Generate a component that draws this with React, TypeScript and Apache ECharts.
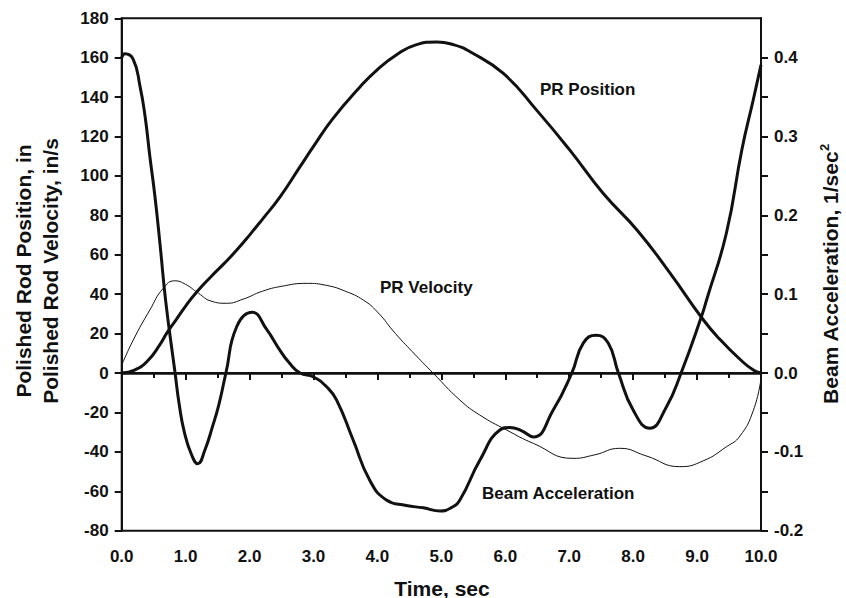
import React, { useEffect, useRef } from "react";
import * as echarts from "echarts";

// Time (s) and values
const positionT = [0, 0.2, 0.4, 0.6, 0.7, 0.85, 1.0, 1.17, 1.4, 1.6, 1.8, 2.0, 2.2, 2.48, 2.79, 3.0, 3.3, 3.73, 4.0, 4.3, 4.6, 4.93, 5.2, 5.45, 5.97, 6.49, 7.01, 7.53, 8.06, 8.58, 9.1, 9.36, 9.67, 9.88, 10.0];
const positionV = [0, 1.5, 6, 14.5, 20, 27, 34, 41, 49, 55.5, 62.4, 70, 78, 89.5, 104.7, 115, 129, 145.3, 154, 161.5, 166.5, 168, 166.5, 163, 152, 133.4, 113.1, 91.2, 72.6, 50.6, 26.9, 17, 7, 1.5, 0];

const velocityT = [0, 0.18, 0.44, 0.65, 0.83, 1.0, 1.2, 1.4, 1.64, 1.9, 2.2, 2.5, 2.89, 3.2, 3.5, 3.78, 4.0, 4.28, 4.6, 4.87, 5.29, 5.6, 6.02, 6.44, 7.06, 7.4, 7.79, 8.2, 8.73, 9.1, 9.46, 9.67, 9.88, 10.0];
const velocityV = [4, 16.7, 32, 43, 46.8, 45, 40.5, 36.5, 35.4, 37.5, 41.5, 44, 45.5, 44.5, 41.5, 37, 31, 20.1, 9, 0, -13.7, -21.3, -28.9, -35.7, -43.3, -41.5, -38.2, -42, -47.5, -44.5, -37.4, -32, -19, -3];

const accelT = [0, 0.05, 0.18, 0.286, 0.365, 0.44, 0.52, 0.6, 0.69, 0.835, 0.9, 0.98, 1.09, 1.19, 1.3, 1.42, 1.52, 1.63, 1.8, 2.04, 2.27, 2.45, 2.63, 2.79, 3.0, 3.2, 3.36, 3.62, 3.88, 4.14, 4.45, 4.72, 4.98, 5.15, 5.29, 5.6, 5.92, 6.07, 6.25, 6.44, 6.75, 7.04, 7.22, 7.42, 7.61, 7.77, 8.0, 8.26, 8.52, 8.75, 9.07, 9.15, 9.46, 9.7, 9.88, 10.0];
const accelV = [0.4, 0.405, 0.398, 0.364, 0.326, 0.275, 0.224, 0.163, 0.09, 0, -0.04, -0.075, -0.103, -0.115, -0.098, -0.068, -0.04, 0, 0.059, 0.077, 0.055, 0.032, 0.012, 0, -0.005, -0.017, -0.034, -0.085, -0.136, -0.161, -0.168, -0.171, -0.175, -0.171, -0.161, -0.111, -0.072, -0.069, -0.073, -0.081, -0.047, 0, 0.038, 0.048, 0.038, 0, -0.047, -0.07, -0.043, 0, 0.072, 0.093, 0.178, 0.283, 0.347, 0.391];

const leftTicks = [-80, -60, -40, -20, 0, 20, 40, 60, 80, 100, 120, 140, 160, 180];
const rightLabelValues = [-0.2, -0.1, 0, 0.1, 0.2, 0.3, 0.4];
const rightTickValues = [-0.2, -0.15, -0.1, -0.05, 0, 0.05, 0.1, 0.15, 0.2, 0.25, 0.3, 0.35, 0.4];

const FONT = "'Liberation Sans', Arial, Helvetica, sans-serif";

const zip = (t: number[], v: number[]) => t.map((x, i) => [x, v[i]]);

export default function App() {
  const ref = useRef<HTMLDivElement>(null);
  useEffect(() => {
    if (!ref.current) return;
    const chart = echarts.init(ref.current, undefined, { renderer: "svg" });
    const labelStyle = { color: "#111", fontFamily: FONT, fontWeight: "bold" as const, fontSize: 17 };
    chart.setOption({
      animation: false,
      backgroundColor: "#fff",
      grid: {
        left: 121.7,
        right: 85,
        top: 18.3,
        bottom: 67.3,
        show: true,
        borderColor: "#111",
        borderWidth: 2,
      },
      xAxis: {
        type: "value",
        min: 0,
        max: 10,
        interval: 1,
        axisLine: { show: true, lineStyle: { color: "#111", width: 2 } },
        axisTick: { show: true, inside: false, length: 7, lineStyle: { color: "#111", width: 2 } },
        minorTick: { show: true, splitNumber: 2, length: 5, lineStyle: { color: "#111", width: 2 } },
        splitLine: { show: false },
        axisLabel: { ...labelStyle, margin: 17, formatter: (v: number) => v.toFixed(1) },
      },
      yAxis: [
        {
          type: "value",
          min: -80,
          max: 180,
          interval: 20,
          position: "left",
          axisLine: { show: true, lineStyle: { color: "#111", width: 2 } },
          axisTick: { show: true, inside: false, length: 7, lineStyle: { color: "#111", width: 2 }, customValues: leftTicks },
          splitLine: { show: false },
          axisLabel: { ...labelStyle, margin: 13, customValues: leftTicks, formatter: (v: number) => String(Math.round(v)) },
        },
        {
          type: "value",
          min: -0.2,
          max: 0.45,
          position: "right",
          axisLine: { show: true, lineStyle: { color: "#111", width: 2 } },
          axisTick: { show: true, inside: false, length: 7, lineStyle: { color: "#111", width: 2 }, customValues: rightTickValues },
          splitLine: { show: false },
          axisLabel: { ...labelStyle, margin: 13, customValues: rightLabelValues, formatter: (v: number) => v.toFixed(1) },
        },
      ],
      series: [
        {
          name: "PR Position",
          type: "line",
          data: zip(positionT, positionV),
          smooth: true,
          showSymbol: false,
          lineStyle: { color: "#111", width: 3 },
          yAxisIndex: 0,
          markLine: {
            silent: true,
            symbol: ["none", "none"],
            label: { show: false },
            lineStyle: { color: "#111", width: 2.5, type: "solid" },
            data: [{ yAxis: 0 }],
          },
        },
        {
          name: "PR Velocity",
          type: "line",
          data: zip(velocityT, velocityV),
          smooth: true,
          showSymbol: false,
          lineStyle: { color: "#111", width: 1 },
          yAxisIndex: 0,
        },
        {
          name: "Beam Acceleration",
          type: "line",
          data: zip(accelT, accelV),
          smooth: true,
          showSymbol: false,
          lineStyle: { color: "#111", width: 3 },
          yAxisIndex: 1,
        },
      ],
      graphic: [
        {
          type: "text",
          x: 540,
          y: 89,
          style: { text: "PR Position", fill: "#111", font: `bold 17px ${FONT}`, align: "left", verticalAlign: "middle" },
        },
        {
          type: "text",
          x: 380,
          y: 287,
          style: { text: "PR Velocity", fill: "#111", font: `bold 17px ${FONT}`, align: "left", verticalAlign: "middle" },
        },
        {
          type: "text",
          x: 482,
          y: 493,
          style: { text: "Beam Acceleration", fill: "#111", font: `bold 17px ${FONT}`, align: "left", verticalAlign: "middle" },
        },
        {
          type: "text",
          x: 442,
          y: 588,
          style: { text: "Time, sec", fill: "#111", font: `bold 21px ${FONT}`, align: "center", verticalAlign: "middle" },
        },
        {
          type: "text",
          x: 37,
          y: 271,
          rotation: Math.PI / 2,
          style: {
            text: "Polished Rod Position, in\nPolished Rod Velocity, in/s",
            fill: "#111",
            font: `bold 21px ${FONT}`,
            lineHeight: 27,
            align: "center",
            verticalAlign: "middle",
          },
        },
        {
          type: "text",
          x: 830,
          y: 274,
          rotation: Math.PI / 2,
          style: {
            text: "{b|Beam Acceleration, 1/sec}{s|2}",
            fill: "#111",
            align: "center",
            verticalAlign: "middle",
            rich: {
              b: { fontFamily: FONT, fontWeight: "bold", fontSize: 21, fill: "#111", lineHeight: 24 },
              s: { fontFamily: FONT, fontWeight: "bold", fontSize: 13, fill: "#111", verticalAlign: "top", lineHeight: 14 },
            },
          },
        },
      ],
    });
    return () => chart.dispose();
  }, []);
  return <div ref={ref} style={{ width: 846, height: 598, position: "absolute", left: 0, top: 0 }} />;
}
